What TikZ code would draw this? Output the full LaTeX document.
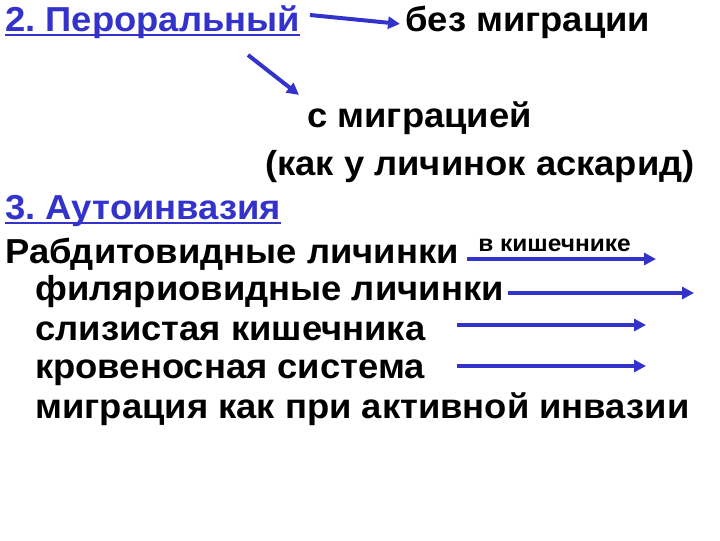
\documentclass[tikz,border=0pt]{standalone}
\usepackage{fontspec}
\setmainfont{Liberation Sans}[FakeStretch=1.05]
\usetikzlibrary{calc,arrows.meta}
\definecolor{arrblue}{RGB}{51,51,204}
\frenchspacing

\begin{document}
\begin{tikzpicture}[x=0.75pt,y=0.75pt,yscale=-1,xscale=1,
  txt/.style={anchor=base west,inner sep=0pt,font=\fontsize{26}{30}\selectfont\bfseries},
  hd/.style={txt,text=arrblue},
  small/.style={anchor=base west,inner sep=0pt,font=\fontsize{17.5}{19}\selectfont\bfseries},
  arr/.style={draw=arrblue,line width=3pt,-{Triangle[length=9pt,width=9pt]}},
  uline/.style={draw=arrblue,line width=1.8pt}]
\useasboundingbox (0,0) rectangle (720,540);

% Text Node
\node[hd] (pero) at (5,31) {2. Пероральный};
% Text Node
\node[txt] (bez) at (405,31) {без миграции};
% Text Node
\node[txt] (smig) at (307,127) {с миграцией};
% Text Node
\node[txt] (kak) at (265,175) {(как у личинок аскарид)};
% Text Node
\node[hd] (auto) at (5,219) {3. Аутоинвазия};
% Text Node
\node[txt] (rabd) at (5,263) {Рабдитовидные личинки};
% Text Node
\node[small] (vkish) at (478,251) {в кишечнике};
% Text Node
\node[txt] (fil) at (35,300) {филяриовидные личинки};
% Text Node
\node[txt] (sliz) at (35,340) {слизистая кишечника};
% Text Node
\node[txt] (krov) at (35,378) {кровеносная система};
% Text Node
\node[txt] (migr) at (35,418) {миграция как при активной инвазии};

%Underlines
\draw[uline] ($(pero.base west)+(0,4)$) -- ($(pero.base east)+(0,4)$);
\draw[uline] ($(auto.base west)+(0,4)$) -- ($(auto.base east)+(0,4)$);

%Straight Lines
\coordinate (c0) at (310,15);
\coordinate (c1) at (248,55);
\coordinate (c2) at (467,259);
\coordinate (c3) at (656,259);
\coordinate (c4) at (508,293);
\coordinate (c5) at (694,293);
\coordinate (c6) at (457,325);
\coordinate (c7) at (646,325);
\coordinate (c8) at (457,366);
\coordinate (c9) at (646,366);

\draw[arr] (c0) -- ($(bez.west)+(-5,2)$);
\draw[arr] (c1) -- ($(smig.north west)+(-8,-6)$);
\draw[arr] (c2) -- (c3);
\draw[arr] (c4) -- (c5);
\draw[arr] (c6) -- (c7);
\draw[arr] (c8) -- (c9);

\end{tikzpicture}
\end{document}
